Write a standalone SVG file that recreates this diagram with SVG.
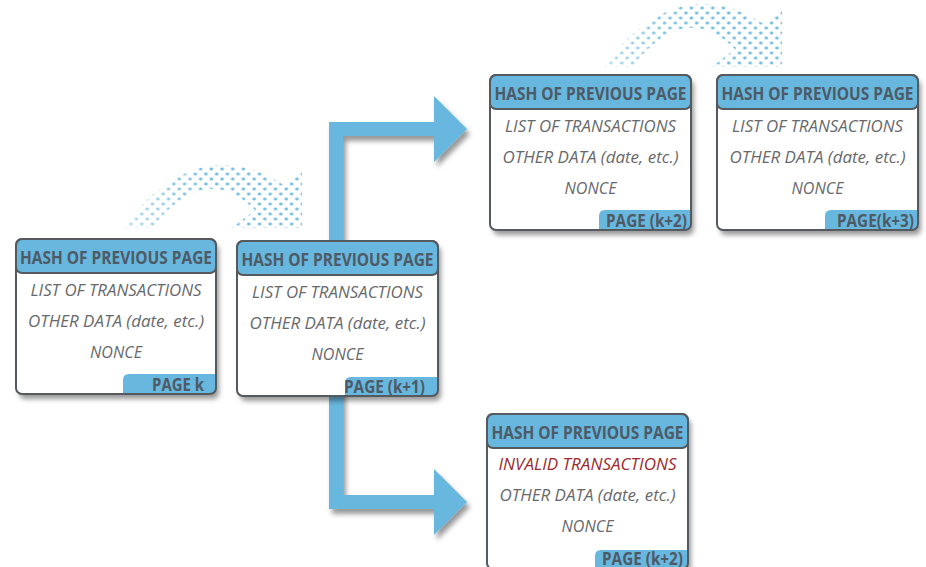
<svg xmlns="http://www.w3.org/2000/svg" xmlns:xlink="http://www.w3.org/1999/xlink" width="926" height="567" viewBox="0 0 926 567">
  <style>
    .card { fill: #ffffff; filter: url(#shadow); }
    .frame { fill: none; stroke: #555a5f; stroke-width: 2; }
    .head { fill: #67b7de; stroke: #555a5f; stroke-width: 2; }
    .tag { fill: #67b7de; }
    .htxt { font-family: "Open Sans", "Liberation Sans", sans-serif; font-weight: 700; font-size: 17px; fill: #4e5a66; text-anchor: middle; }
    .itxt { font-family: "Open Sans", "Liberation Sans", sans-serif; font-style: italic; font-size: 16.5px; fill: #68696c; text-anchor: middle; }
    .bad { fill: #9c2a2e; }
    .ttxt { font-family: "Open Sans", "Liberation Sans", sans-serif; font-weight: 700; font-size: 17.5px; fill: #4e5a66; text-anchor: end; }
    .bigarrow { fill: #67b7de; filter: url(#shadow); }
  </style>
  <defs>
    <filter id="shadow" x="-20%" y="-20%" width="140%" height="150%">
      <feDropShadow dx="3" dy="5" stdDeviation="2.5" flood-color="#000" flood-opacity="0.4"/>
    </filter>
    <!-- staggered halftone dot grid -->
    <pattern id="dots" patternUnits="userSpaceOnUse" x="0" y="1.5" width="10.7" height="10">
      <ellipse cx="2.7" cy="2.5" rx="1.8" ry="1.35" fill="#5db2dc"/>
      <ellipse cx="8.05" cy="7.5" rx="1.8" ry="1.35" fill="#5db2dc"/>
    </pattern>
    <linearGradient id="fadeGrad" x1="0" y1="0" x2="1" y2="0">
      <stop offset="0" stop-color="#fff" stop-opacity="0.5"/>
      <stop offset="0.45" stop-color="#fff" stop-opacity="1"/>
      <stop offset="1" stop-color="#fff" stop-opacity="1"/>
    </linearGradient>
    <mask id="fade" maskContentUnits="objectBoundingBox">
      <rect x="0" y="0" width="1" height="1" fill="url(#fadeGrad)"/>
    </mask>
    <!-- dotted curved "hop" arrow from one page to the next -->
    <g id="hop">
      <path d="M122,228 Q200,128 285,186 L302,172 L302,228 L232,228 L255,210 Q205,160 152,228 Z" fill="url(#dots)" mask="url(#fade)"/>
    </g>
  </defs>

  <g id="connectors">
    <!-- fork: valid branch up, invalid branch down -->
    <path class="bigarrow" d="M329,250 L329,122 L434,122 L434,96 L467,129 L434,162 L434,136 L343,136 L343,250 Z"/>
    <path class="bigarrow" d="M329,385 L329,509 L434,509 L434,535 L467,502 L434,469 L434,495 L343,495 L343,385 Z"/>
    <!-- chain links -->
    <use xlink:href="#hop"/>
    <use xlink:href="#hop" transform="translate(480,-161)"/>
  </g>

  <g id="page-k" transform="translate(16,239)">
    <rect class="card" x="0" y="0" width="200" height="155" rx="6"/>
    <path class="tag" d="M107,141 Q107,135 113,135 L200,135 L200,149 Q200,155 194,155 L107,155 Z"/>
    <rect class="head" x="0" y="0" width="200" height="34" rx="6"/>
    <rect class="frame" x="0" y="0" width="200" height="155" rx="6"/>
    <text class="htxt" x="100" y="24.5" textLength="192" lengthAdjust="spacingAndGlyphs">HASH OF PREVIOUS PAGE</text>
    <text class="itxt" x="100" y="57" textLength="171" lengthAdjust="spacingAndGlyphs">LIST OF TRANSACTIONS</text>
    <text class="itxt" x="100" y="88" textLength="176" lengthAdjust="spacingAndGlyphs">OTHER DATA (date, etc.)</text>
    <text class="itxt" x="100" y="119" textLength="52" lengthAdjust="spacingAndGlyphs">NONCE</text>
    <text class="ttxt" x="188" y="152" textLength="52" lengthAdjust="spacingAndGlyphs">PAGE k</text>
  </g>

  <g id="page-k1" transform="translate(237,241)">
    <rect class="card" x="0" y="0" width="201" height="155" rx="6"/>
    <path class="tag" d="M108,142 Q108,136 114,136 L201,136 L201,149 Q201,155 195,155 L108,155 Z"/>
    <rect class="head" x="0" y="0" width="201" height="34" rx="6"/>
    <rect class="frame" x="0" y="0" width="201" height="155" rx="6"/>
    <text class="htxt" x="100.5" y="24.5" textLength="192" lengthAdjust="spacingAndGlyphs">HASH OF PREVIOUS PAGE</text>
    <text class="itxt" x="100.5" y="57" textLength="171" lengthAdjust="spacingAndGlyphs">LIST OF TRANSACTIONS</text>
    <text class="itxt" x="100.5" y="88" textLength="176" lengthAdjust="spacingAndGlyphs">OTHER DATA (date, etc.)</text>
    <text class="itxt" x="100.5" y="119" textLength="52" lengthAdjust="spacingAndGlyphs">NONCE</text>
    <text class="ttxt" x="188" y="152" textLength="81" lengthAdjust="spacingAndGlyphs">PAGE (k+1)</text>
  </g>

  <g id="page-k2" transform="translate(490,75)">
    <rect class="card" x="0" y="0" width="201" height="155" rx="6"/>
    <path class="tag" d="M109,141 Q109,135 115,135 L201,135 L201,149 Q201,155 195,155 L109,155 Z"/>
    <rect class="head" x="0" y="0" width="201" height="34" rx="6"/>
    <rect class="frame" x="0" y="0" width="201" height="155" rx="6"/>
    <text class="htxt" x="100.5" y="24.5" textLength="192" lengthAdjust="spacingAndGlyphs">HASH OF PREVIOUS PAGE</text>
    <text class="itxt" x="100.5" y="57" textLength="171" lengthAdjust="spacingAndGlyphs">LIST OF TRANSACTIONS</text>
    <text class="itxt" x="100.5" y="88" textLength="176" lengthAdjust="spacingAndGlyphs">OTHER DATA (date, etc.)</text>
    <text class="itxt" x="100.5" y="119" textLength="52" lengthAdjust="spacingAndGlyphs">NONCE</text>
    <text class="ttxt" x="197" y="152" textLength="81" lengthAdjust="spacingAndGlyphs">PAGE (k+2)</text>
  </g>

  <g id="page-k3" transform="translate(717,75)">
    <rect class="card" x="0" y="0" width="201" height="155" rx="6"/>
    <path class="tag" d="M108,141 Q108,135 114,135 L201,135 L201,149 Q201,155 195,155 L108,155 Z"/>
    <rect class="head" x="0" y="0" width="201" height="34" rx="6"/>
    <rect class="frame" x="0" y="0" width="201" height="155" rx="6"/>
    <text class="htxt" x="100.5" y="24.5" textLength="192" lengthAdjust="spacingAndGlyphs">HASH OF PREVIOUS PAGE</text>
    <text class="itxt" x="100.5" y="57" textLength="171" lengthAdjust="spacingAndGlyphs">LIST OF TRANSACTIONS</text>
    <text class="itxt" x="100.5" y="88" textLength="176" lengthAdjust="spacingAndGlyphs">OTHER DATA (date, etc.)</text>
    <text class="itxt" x="100.5" y="119" textLength="52" lengthAdjust="spacingAndGlyphs">NONCE</text>
    <text class="ttxt" x="197" y="152" textLength="77" lengthAdjust="spacingAndGlyphs">PAGE(k+3)</text>
  </g>

  <g id="page-k2-invalid" transform="translate(487,414)">
    <rect class="card" x="0" y="0" width="201" height="155" rx="6"/>
    <path class="tag" d="M108,142 Q108,136 114,136 L201,136 L201,149 Q201,155 195,155 L108,155 Z"/>
    <rect class="head" x="0" y="0" width="201" height="34" rx="6"/>
    <rect class="frame" x="0" y="0" width="201" height="155" rx="6"/>
    <text class="htxt" x="100.5" y="24.5" textLength="192" lengthAdjust="spacingAndGlyphs">HASH OF PREVIOUS PAGE</text>
    <text class="itxt bad" x="100.5" y="56" textLength="178" lengthAdjust="spacingAndGlyphs">INVALID TRANSACTIONS</text>
    <text class="itxt" x="100.5" y="87" textLength="176" lengthAdjust="spacingAndGlyphs">OTHER DATA (date, etc.)</text>
    <text class="itxt" x="100.5" y="118" textLength="52" lengthAdjust="spacingAndGlyphs">NONCE</text>
    <text class="ttxt" x="196" y="150.5" textLength="81" lengthAdjust="spacingAndGlyphs">PAGE (k+2)</text>
  </g>
</svg>
